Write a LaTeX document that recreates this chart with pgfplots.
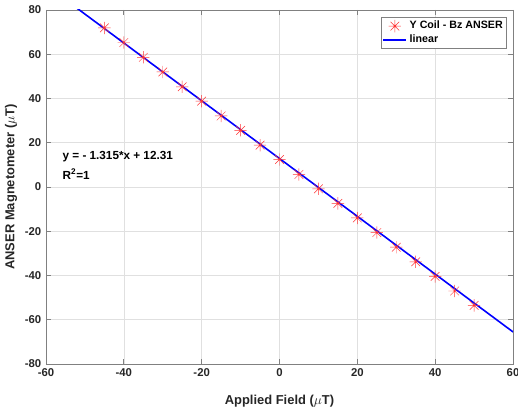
\documentclass[border=0pt]{standalone}
\usepackage{pgfplots}
\pgfplotsset{compat=1.18}
\usepackage{fontspec}
\setmainfont{Liberation Sans}

\definecolor{axgray}{gray}{0.5}
\definecolor{gridgray}{gray}{0.88}
\definecolor{txt}{gray}{0.15}

% matlab style '*' marker: plus and cross together
\pgfdeclareplotmark{mstar}{%
  \pgfpathmoveto{\pgfqpoint{\pgfplotmarksize}{0pt}}%
  \pgfpathlineto{\pgfqpoint{-\pgfplotmarksize}{0pt}}%
  \pgfpathmoveto{\pgfqpoint{0pt}{\pgfplotmarksize}}%
  \pgfpathlineto{\pgfqpoint{0pt}{-\pgfplotmarksize}}%
  \pgfpathmoveto{\pgfqpoint{0.707\pgfplotmarksize}{0.707\pgfplotmarksize}}%
  \pgfpathlineto{\pgfqpoint{-0.707\pgfplotmarksize}{-0.707\pgfplotmarksize}}%
  \pgfpathmoveto{\pgfqpoint{-0.707\pgfplotmarksize}{0.707\pgfplotmarksize}}%
  \pgfpathlineto{\pgfqpoint{0.707\pgfplotmarksize}{-0.707\pgfplotmarksize}}%
  \pgfusepathqstroke}

\begin{document}
\begin{tikzpicture}
\begin{axis}[
    name=ax,
    scale only axis,
    width=350.25pt, height=265.5pt,
    xmin=-60, xmax=60, ymin=-80, ymax=80,
    xtick={-60,-40,...,60},
    ytick={-80,-60,...,80},
    grid=major,
    major grid style={gridgray, line width=0.5pt},
    axis line style={axgray, line width=0.6pt},
    tick style={axgray, line width=0.6pt},
    tick align=inside,
    major tick length=4pt,
    tick label style={font=\fontsize{8.5}{9.5}\selectfont\bfseries, text=txt},
    /pgf/number format/assume math mode=true,
    xlabel={Applied Field ($\mu$T)},
    ylabel={ANSER Magnetometer ($\mu$T)},
    label style={font=\fontsize{9.7}{11}\selectfont\bfseries, text=txt},
    xlabel style={yshift=-7pt},
    ylabel style={yshift=-1pt},
    legend style={at={(1,1)}, anchor=north east, xshift=-4.5pt, yshift=-5.25pt,
        draw=axgray, fill=white, font=\fontsize{8}{9.5}\selectfont\bfseries,
        text=black, inner sep=1pt, row sep=-1pt},
    legend cell align=left,
]
\addplot[red!80, line width=0.35pt, only marks, mark=mstar, mark size=4.6pt] coordinates {
    (-45,71.9) (-40,65.3) (-35,58.6) (-30,52.0) (-25,45.3)
    (-20,38.8) (-15,32.1) (-10,25.6) (-5,18.9) (0,12.4)
    (5,5.7) (10,-0.8) (15,-7.4) (20,-14.0) (25,-20.6)
    (30,-27.2) (35,-33.8) (40,-40.4) (45,-47.0) (50,-53.5)
};
\addlegendentry{Y Coil - Bz ANSER}
\addplot[blue, line width=1.2pt] coordinates {(-60,91.21) (60,-65.49)};
\addlegendentry{linear}
\node[anchor=west, font=\fontsize{8.8}{10}\selectfont\bfseries, text=black, inner sep=0pt]
    at (axis cs:-55.8,13.6) {y = - 1.315*x + 12.31};
\node[anchor=west, font=\fontsize{8.8}{10}\selectfont\bfseries, text=black, inner sep=0pt]
    at (axis cs:-55.8,6.0) {R\textsuperscript{2}=1};
\end{axis}
\pgfresetboundingbox
\path ([xshift=-34.5pt,yshift=-34.5pt]ax.south west) rectangle ([xshift=3.75pt,yshift=7.5pt]ax.north east);
\end{tikzpicture}
\end{document}
